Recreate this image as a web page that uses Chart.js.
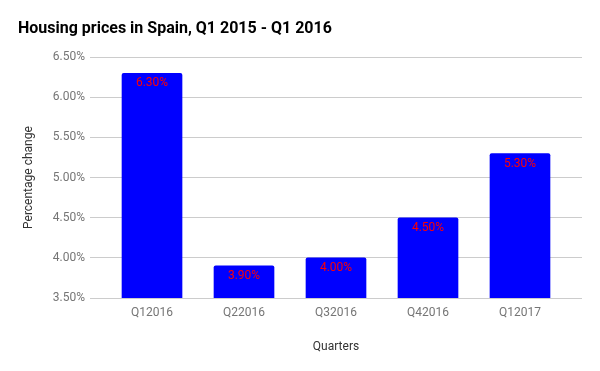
<!DOCTYPE html>
<html>
<head>
<meta charset="utf-8">
<script src="https://cdn.jsdelivr.net/npm/chart.js@4/dist/chart.umd.min.js"></script>
<style>
html,body{margin:0;padding:0;background:#fff;}
#wrap{width:600px;height:371px;}
</style>
</head>
<body>
<div id="wrap"><canvas id="c" width="600" height="371"></canvas></div>
<script>
const categories = ['Q12016', 'Q22016', 'Q32016', 'Q42016', 'Q12017'];
const values = [6.30, 3.90, 4.00, 4.50, 5.30];
const yTicks = [3.5, 4.0, 4.5, 5.0, 5.5, 6.0, 6.5];

const points = values.map((v, i) => ({ x: i, y: v }));

const labelPlugin = {
  id: 'barLabels',
  afterDatasetsDraw(chart) {
    const ctx = chart.ctx;
    const meta = chart.getDatasetMeta(0);
    ctx.save();
    ctx.font = '12px Roboto';
    ctx.fillStyle = '#ff0000';
    ctx.textAlign = 'center';
    ctx.textBaseline = 'middle';
    meta.data.forEach((bar, i) => {
      ctx.fillText(values[i].toFixed(2) + '%', bar.x, bar.y + 10);
    });
    ctx.restore();
  }
};

new Chart(document.getElementById('c'), {
  type: 'bar',
  data: {
    datasets: [{
      data: points,
      backgroundColor: '#0000ff',
      borderWidth: 0,
      barThickness: 60,
      borderRadius: { topLeft: 2, topRight: 2, bottomLeft: 0, bottomRight: 0 },
      borderSkipped: 'start'
    }]
  },
  options: {
    responsive: false,
    animation: false,
    devicePixelRatio: 1,
    layout: { padding: { left: 18, right: 18, top: 0, bottom: 13 } },
    plugins: {
      legend: { display: false },
      tooltip: { enabled: false },
      title: {
        display: true,
        text: 'Housing prices in Spain, Q1 2015 - Q1 2016',
        align: 'start',
        color: '#000000',
        font: { family: 'Roboto', size: 16, weight: 'bold' },
        padding: { top: 19, bottom: 19 }
      }
    },
    scales: {
      x: {
        type: 'linear',
        min: -0.674,
        max: 4.674,
        offset: false,
        grid: { display: false, drawTicks: false },
        border: { display: false },
        afterBuildTicks: (s) => { s.ticks = categories.map((c, i) => ({ value: i })); },
        afterFit: (s) => { s.height = 60; },
        ticks: {
          color: '#757575',
          font: { family: 'Roboto', size: 12 },
          padding: 8,
          maxRotation: 0,
          callback: (v) => categories[v]
        },
        title: {
          display: true,
          text: 'Quarters',
          color: '#333333',
          font: { family: 'Roboto', size: 12 },
          padding: { top: 4, bottom: 4 }
        }
      },
      y: {
        min: 3.5,
        max: 6.5,
        grid: { color: '#cccccc', drawTicks: false, lineWidth: 1 },
        border: { display: false },
        afterBuildTicks: (s) => { s.ticks = yTicks.map(v => ({ value: v })); },
        afterFit: (s) => { s.width = 72; },
        ticks: {
          color: '#757575',
          font: { family: 'Roboto', size: 12 },
          padding: 5,
          callback: (v) => v.toFixed(2) + '%'
        },
        title: {
          display: true,
          text: 'Percentage change',
          color: '#333333',
          font: { family: 'Roboto', size: 12 },
          padding: { top: 4, bottom: 4 }
        }
      }
    }
  },
  plugins: [labelPlugin]
});
</script>
</body>
</html>
